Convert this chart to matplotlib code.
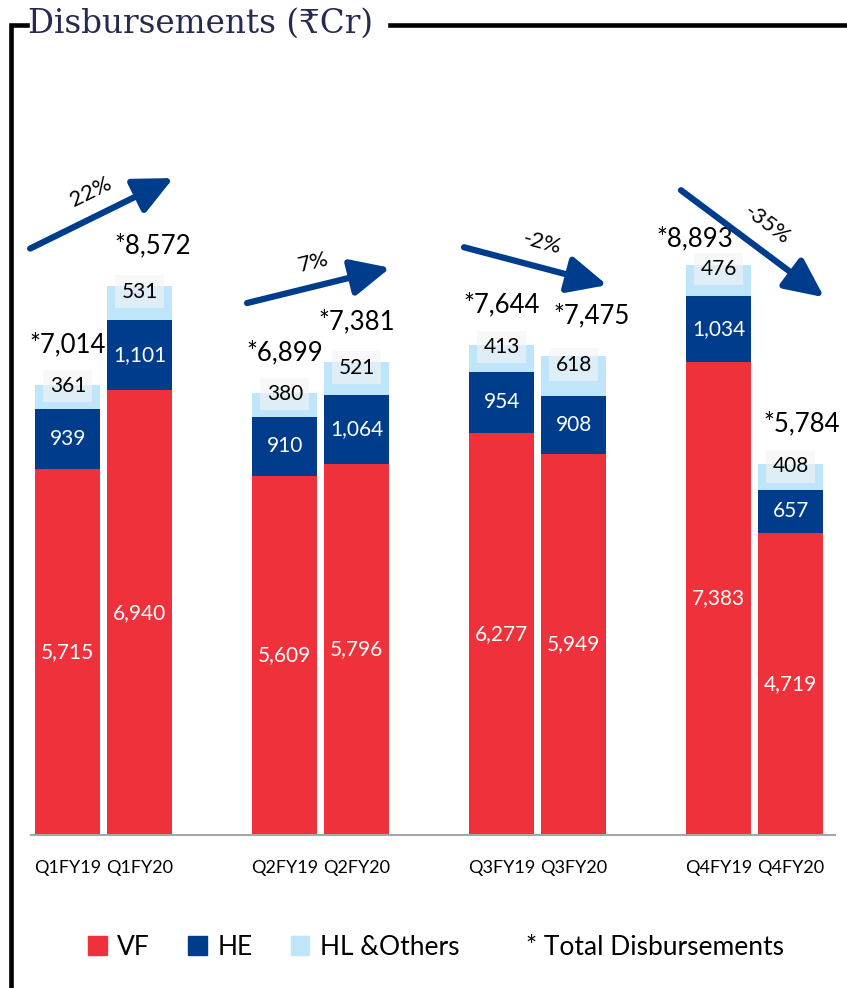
import numpy as np
import matplotlib.pyplot as plt
from matplotlib.lines import Line2D
from matplotlib.patches import Patch

# Quarterly disbursements (Rs Cr) by segment
quarters = ['Q1', 'Q2', 'Q3', 'Q4']
periods = ['Q1FY19', 'Q1FY20', 'Q2FY19', 'Q2FY20', 'Q3FY19', 'Q3FY20', 'Q4FY19', 'Q4FY20']
vf = [5715, 6940, 5609, 5796, 6277, 5949, 7383, 4719]
he = [939, 1101, 910, 1064, 954, 908, 1034, 657]
hl = [361, 531, 380, 521, 413, 618, 476, 408]
totals = [7014, 8572, 6899, 7381, 7644, 7475, 8893, 5784]

RED = '#EE313A'
NAVY = '#003C8C'
LIGHT = '#BFE5FA'
FONT = 'Lato'

W, H = 847, 988
fig = plt.figure(figsize=(W / 100, H / 100), dpi=100)
ax = fig.add_axes([31 / W, 1 - 835 / H, (835 - 31) / W, (835 - 80) / H])

# bar positions: two bars per quarter
group = np.repeat(np.arange(len(quarters)), 2)
side = np.tile([-0.166, 0.166], len(quarters))
x = group + side
bw = 0.30

vf = np.array(vf)
he = np.array(he)
hl = np.array(hl)
ax.bar(x, vf, bw, color=RED, edgecolor='none')
ax.bar(x, he, bw, bottom=vf, color=NAVY, edgecolor='none')
ax.bar(x, hl, bw, bottom=vf + he, color=LIGHT, edgecolor='none')

ax.set_xlim(-0.336, 3.37)
ax.set_ylim(0, 11780)

# total label nudges (points) so they clear the arrows and each other
nudge = {1: (9, 0), 5: (13, 0), 6: (-17, -10), 7: (8, 0)}

for k, (xi, a, b, c, t) in enumerate(zip(x, vf, he, hl, totals)):
    ax.text(xi, a / 2, f'{a:,}', ha='center', va='center', color='white',
            fontsize=15, family=FONT)
    ax.text(xi, a + b / 2, f'{b:,}', ha='center', va='center', color='white',
            fontsize=15, family=FONT)
    ax.annotate(f'{c:,}', (xi, a + b + c / 2), xytext=(0, 8), textcoords='offset points',
                ha='center', va='center', color='black', fontsize=15, family=FONT,
                bbox=dict(boxstyle='square,pad=0.3', fc='#F4F4F4', ec='none', alpha=0.6))
    dx, dy = nudge.get(k, (0, 0))
    ax.annotate(f'*{t:,}', (xi, t), xytext=(dx, 29 + dy), textcoords='offset points',
                ha='center', va='center', color='black', fontsize=18.5, family=FONT)

# growth arrows between the FY19 and FY20 bars of each quarter
arrow_y = [(9150, 10250), (8300, 8850), (9170, 8580), (10060, 8390)]
fig.canvas.draw()
for i, (y0, y1) in enumerate(arrow_y):
    t19, t20 = totals[2 * i], totals[2 * i + 1]
    pct = (t20 - t19) / t19 * 100
    p0 = (i - 0.34, y0)
    p1 = (i + 0.32, y1)
    ax.annotate('', xy=p1, xytext=p0,
                arrowprops=dict(arrowstyle='-|>,head_length=1.7,head_width=0.8',
                                lw=4.5, color=NAVY, mutation_scale=14,
                                shrinkA=0, shrinkB=0, capstyle='round'))
    a0 = ax.transData.transform(p0)
    a1 = ax.transData.transform(p1)
    ang = np.degrees(np.arctan2(a1[1] - a0[1], a1[0] - a0[0]))
    nx, ny = -np.sin(np.radians(ang)), np.cos(np.radians(ang))
    mid = ((p0[0] + p1[0]) / 2, (p0[1] + p1[1]) / 2)
    ax.annotate(f'{pct:.0f}%', mid, xytext=(nx * 17, ny * 17), textcoords='offset points',
                ha='center', va='center', rotation=ang, rotation_mode='anchor',
                fontsize=16, family=FONT, color='black')

ax.set_xticks(x)
ax.set_xticklabels(periods, fontsize=13, family=FONT)
ax.tick_params(axis='x', length=0, pad=18)
ax.set_yticks([])
for s in ['top', 'right', 'left']:
    ax.spines[s].set_visible(False)
ax.spines['bottom'].set_color('#A6A6A6')
ax.spines['bottom'].set_linewidth(1.5)

handles = [Patch(color=RED), Patch(color=NAVY), Patch(color=LIGHT), Patch(color='none')]
fig.legend(handles, ['VF', 'HE', 'HL &Others', '* Total Disbursements'],
           loc='center', bbox_to_anchor=(0.515, 1 - 947 / H), ncol=4, frameon=False,
           prop={'family': FONT, 'size': 19}, handlelength=0.7, handleheight=0.7,
           handletextpad=0.4, columnspacing=1.45)

# header frame and title
lw = 3.3
ly = 1 - 25 / H
fig.add_artist(Line2D([11 / W, 11 / W, 27 / W], [0, ly, ly],
                      transform=fig.transFigure, color='black', lw=lw,
                      solid_joinstyle='miter'))
fig.add_artist(Line2D([390 / W, 1], [ly, ly],
                      transform=fig.transFigure, color='black', lw=lw))
fig.text(28 / W, 1 - 33 / H, 'Disbursements (₹Cr)', ha='left', va='baseline',
         fontsize=23.5, color='#262A4F', family=['DejaVu Serif'])

fig.savefig('out.png', dpi=100, facecolor='white')
